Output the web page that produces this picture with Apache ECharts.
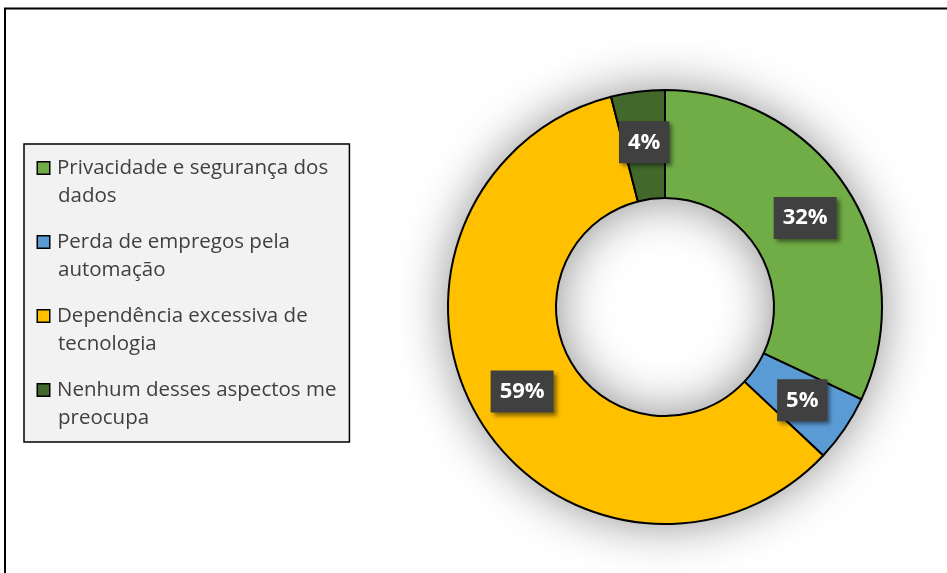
<!DOCTYPE html>
<html>
<head>
<meta charset="utf-8">
<script src="https://cdn.jsdelivr.net/npm/echarts@6/dist/echarts.min.js"></script>
<style>
    html, body { margin: 0; padding: 0; background: #fff; }
    #chart { width: 947px; height: 573px; }
</style>
</head>
<body>
<div id="chart"></div>
<script>
var categories = [
    "Privacidade e segurança dos dados",
    "Perda de empregos pela automação",
    "Dependência excessiva de tecnologia",
    "Nenhum desses aspectos me preocupa"
];
// same names, wrapped the way the legend shows them
var legendLines = [
    ["Privacidade e segurança dos", "dados"],
    ["Perda de empregos pela", "automação"],
    ["Dependência excessiva de", "tecnologia"],
    ["Nenhum desses aspectos me", "preocupa"]
];
var values = [32, 5, 59, 4];
var colors = ["#70ad47", "#5b9bd5", "#ffc000", "#43682b"];

var chart = echarts.init(document.getElementById("chart"));

// legend swatch sits on the first text line, so it goes into rich text
var rich = {
    gap: { width: 8, lineHeight: 28 },
    ind: { width: 20, lineHeight: 28 }
};
colors.forEach(function (c, i) {
    rich["sq" + i] = {
        width: 11,
        height: 11,
        lineHeight: 28,
        backgroundColor: c,
        borderColor: "#000",
        borderWidth: 1.5
    };
});

var pieData = categories.map(function (name, i) {
    return { name: name, value: values[i], itemStyle: { color: colors[i] } };
});

var option = {
    animation: false,
    color: colors,
    graphic: [{
        type: "rect",
        silent: true,
        z: -10,
        shape: { x: 5, y: 8.5, width: 1200, height: 1200 },
        style: { fill: "none", stroke: "#000", lineWidth: 2 }
    }],
    legend: {
        orient: "vertical",
        left: 24,
        top: 144,
        padding: [10, 13, 10, 8],
        itemGap: 18,
        itemWidth: 0,
        itemHeight: 0,
        icon: "rect",
        itemStyle: { opacity: 0 },
        selectedMode: false,
        backgroundColor: "#f2f2f2",
        borderColor: "#000",
        borderWidth: 1.5,
        textStyle: {
            fontFamily: "Open Sans",
            fontSize: 20.5,
            color: "#404040",
            lineHeight: 28,
            rich: rich
        },
        formatter: function (name) {
            var i = categories.indexOf(name);
            return "{sq" + i + "| }{gap| }" + legendLines[i][0] + "\n{ind| }" + legendLines[i][1];
        },
        data: categories
    },
    series: [
        {
            // soft glow under the ring
            type: "pie",
            silent: true,
            z: 1,
            center: [665, 307],
            radius: [109, 217],
            label: { show: false },
            labelLine: { show: false },
            itemStyle: {
                color: "#fff",
                shadowBlur: 50,
                shadowColor: "rgba(0,0,0,0.45)"
            },
            data: [{ name: "", value: 1 }]
        },
        {
            type: "pie",
            z: 2,
            center: [665, 307],
            radius: [109, 217],
            startAngle: 90,
            clockwise: true,
            avoidLabelOverlap: false,
            itemStyle: {
                borderColor: "#000",
                borderWidth: 2
            },
            label: {
                show: true,
                position: "inside",
                formatter: "{c}%",
                color: "#fff",
                fontFamily: "Open Sans",
                fontWeight: "bold",
                fontSize: 22,
                lineHeight: 26,
                backgroundColor: "#404040",
                padding: [8, 9, 8, 9],
                shadowColor: "rgba(0,0,0,0.45)",
                shadowBlur: 4,
                shadowOffsetX: 3,
                shadowOffsetY: 3
            },
            labelLine: { show: false },
            emphasis: { disabled: true },
            data: pieData
        }
    ]
};
chart.setOption(option);
</script>
</body>
</html>
